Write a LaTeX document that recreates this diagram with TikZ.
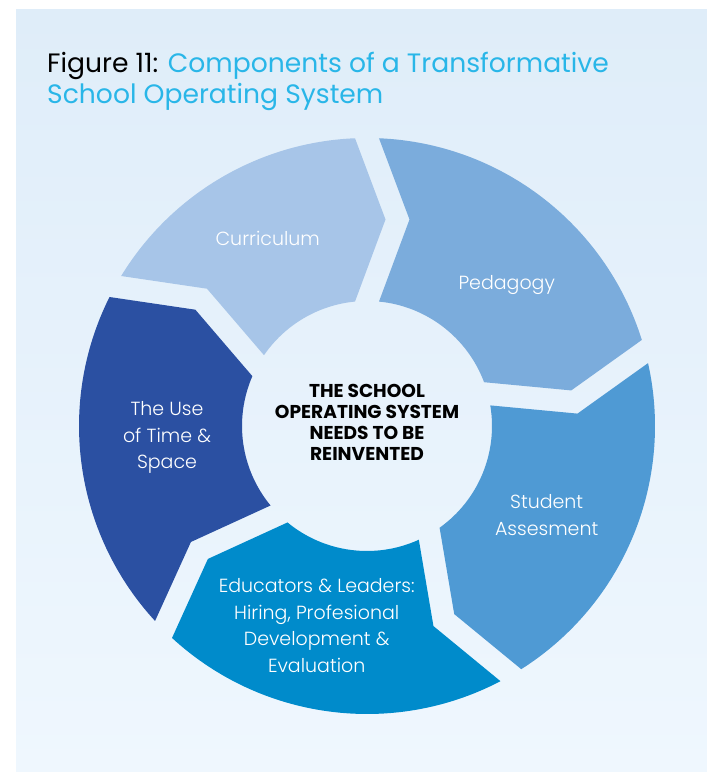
\documentclass[tikz,border=0pt]{standalone}
\usepackage{fontspec}
\setmainfont{Poppins}
\IfFontExistsTF{Poppins Light}
  {\newfontfamily\thinfont{Poppins Light}}
  {\newfontfamily\thinfont{Poppins}}
\usetikzlibrary{calc}

\definecolor{panelhi}{RGB}{223,237,249}
\definecolor{panello}{RGB}{239,247,254}
\definecolor{titlecyan}{RGB}{41,182,232}
\definecolor{curri}{RGB}{167,197,232}
\definecolor{pedag}{RGB}{123,172,220}
\definecolor{assess}{RGB}{79,154,212}
\definecolor{educ}{RGB}{0,139,203}
\definecolor{timesp}{RGB}{43,80,162}

\begin{document}
\begin{tikzpicture}[x=1pt,y=1pt,
  seglabel/.style={text=white,align=center,anchor=base,inner sep=0pt,
    font=\thinfont\fontsize{19}{26.7}\selectfont},
  hubtext/.style={align=center,anchor=base,inner sep=0pt,
    font=\bfseries\fontsize{18.6}{21.2}\selectfont}]
\useasboundingbox (0,0) rectangle (707,772);
\shade[top color=panelhi,bottom color=panello] (16,0) rectangle (707,762);

% title, two lines (base = baseline of the last line)
\node[anchor=base west,align=left,inner sep=0pt,
  font=\fontsize{26.6}{31.5}\selectfont] (title) at (47,668)
  {Figure 11: \textcolor{titlecyan}{Components of a Transformative}\\
   \textcolor{titlecyan}{School Operating System}};

% the five arrow segments round the hub
% outer r 288, inner r 125, mid r 206.5, half gap 12
\begin{scope}[shift={(367,346)}]
  \foreach \a/\b/\col in {151/90/curri, 90/15/pedag, 15/-60/assess,
                          -60/-135/educ, -135/-209/timesp}
    \fill[\col] ({\a-2.388}:288)
      arc[start angle=\a-2.388, end angle=\b+2.388, radius=288]
      -- ($(\b:206.5)+(\b-90:18.5)$)
      -- ({\b+5.509}:125)
      arc[start angle=\b+5.509, end angle=\a-5.509, radius=125]
      -- ($(\a:206.5)+(\a-90:42.5)$) -- cycle;
\end{scope}

\node[hubtext] (hub) at (367,311.3)
  {THE SCHOOL\\OPERATING SYSTEM\\NEEDS TO BE\\REINVENTED};

\node[seglabel] (curriculum) at (267.7,526.3) {Curriculum};
\node[seglabel] (pedagogy) at (506.7,482) {Pedagogy};
\node[seglabel] (assessment) at (546.7,236.3) {Student\\Assesment};
\node[seglabel] (educators) at (316.7,99.3)
  {Educators \& Leaders:\\Hiring, Profesional\\Development \&\\Evaluation};
\node[seglabel] (timespace) at (167,303) {The Use\\of Time \&\\Space};
\end{tikzpicture}
\end{document}
